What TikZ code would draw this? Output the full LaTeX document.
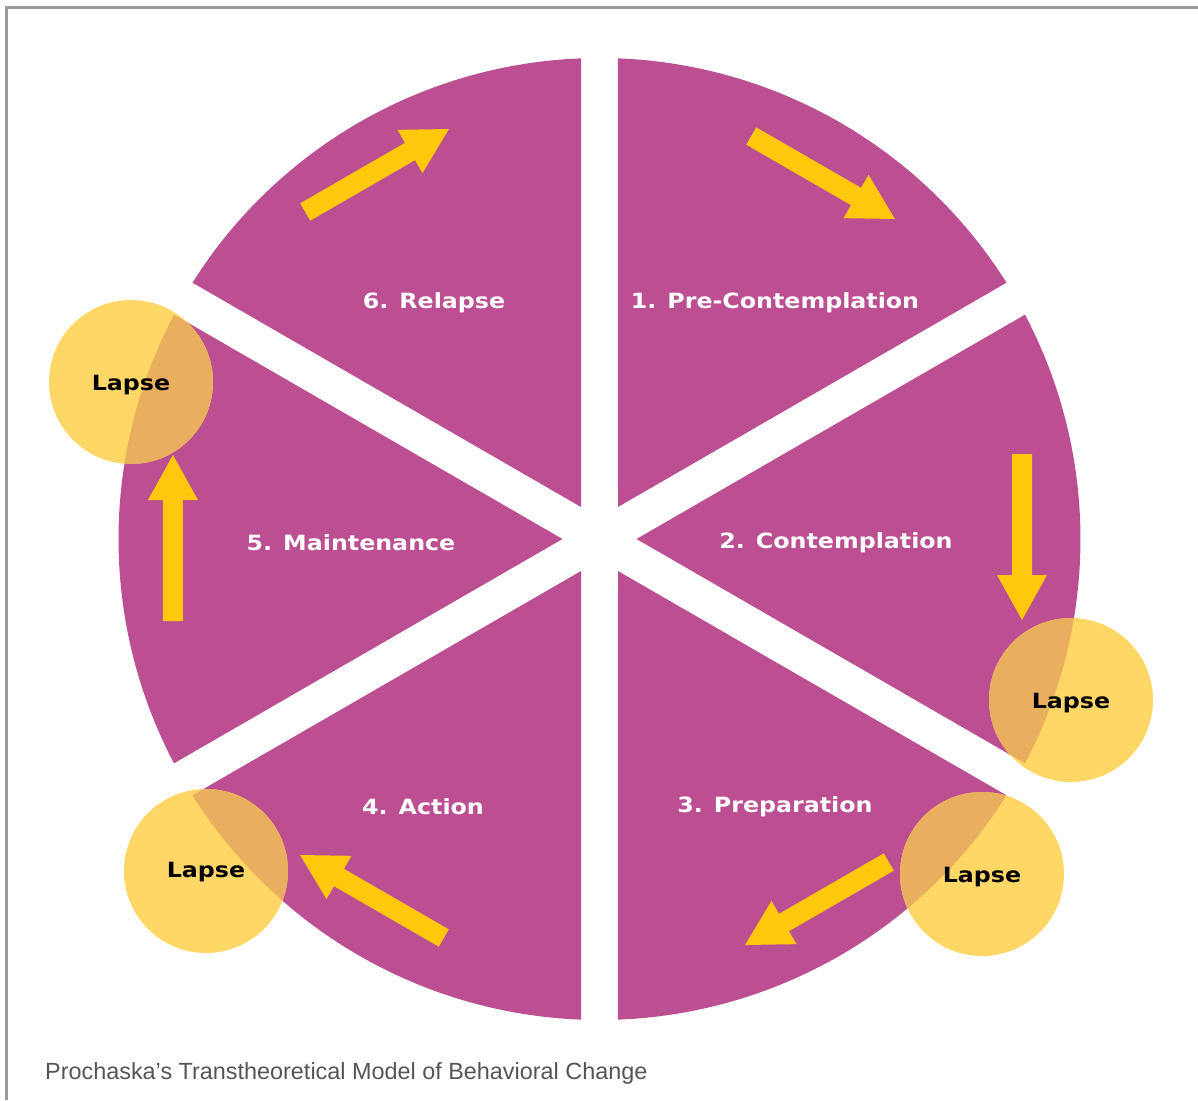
\documentclass[tikz,border=0pt]{standalone}
\usepackage{fontspec}
\setmainfont{DejaVu Sans}
\newfontfamily\capfont{Liberation Sans}
\newfontfamily\stagefont[FakeStretch=1.13]{DejaVu Sans}
\definecolor{stagepink}{HTML}{BC4F92}
\definecolor{arrowyellow}{HTML}{FFC80A}
\definecolor{lapseyellow}{HTML}{FFD766}
\definecolor{lapseorange}{HTML}{E9AF5F}
\definecolor{framegray}{HTML}{9A9A9A}
\definecolor{capgray}{HTML}{555555}

\begin{document}
\begin{tikzpicture}[x=1pt,y=1pt]
    \tikzstyle{every node}+=[inner sep=0pt]
    \tikzstyle{stage}=[text=white, font=\stagefont\bfseries\fontsize{21}{25}\selectfont]
    \tikzstyle{lapse}=[circle, minimum size=164pt, fill=lapseyellow]
    \tikzstyle{lapsetext}=[text=black, font=\stagefont\bfseries\fontsize{21}{25}\selectfont]
    \useasboundingbox (-599.5,-561) rectangle (598.5,539);
    \draw [framegray, line width=3pt] (-593,-561) -- (-593,531.5) -- (598.5,531.5);
    % the six slices
    \fill [stagepink] (60:37) -- (32.2:481) arc [start angle=32.2, end angle=87.8, radius=481] -- cycle;
    \fill [stagepink] (120:37) -- (92.2:481) arc [start angle=92.2, end angle=147.8, radius=481] -- cycle;
    \fill [stagepink] (180:37) -- (152.2:481) arc [start angle=152.2, end angle=207.8, radius=481] -- cycle;
    \fill [stagepink] (240:37) -- (212.2:481) arc [start angle=212.2, end angle=267.8, radius=481] -- cycle;
    \fill [stagepink] (300:37) -- (272.2:481) arc [start angle=272.2, end angle=327.8, radius=481] -- cycle;
    \fill [stagepink] (0:37) -- (-27.8:481) arc [start angle=-27.8, end angle=27.8, radius=481] -- cycle;
    \draw (175.5,236) node [stage] (stage1) {1. Pre-Contemplation};
    \draw (236.5,-4) node [stage] (stage2) {2. Contemplation};
    \draw (175.5,-268) node [stage] (stage3) {3. Preparation};
    \draw (-176.5,-268) node [stage] (stage4) {4. Action};
    \draw (-248.5,-4) node [stage] (stage5) {5. Maintenance};
    \draw (-165.5,236) node [stage] (stage6) {6. Relapse};
    % arrows round the circle
    \fill [arrowyellow, shift={(223.6,361.5)}, rotate=-30] (-83,-10) -- (38,-10) -- (38,-25) -- (83,0) -- (38,25) -- (38,10) -- (-83,10) -- cycle;
    \fill [arrowyellow, shift={(422.5,2)}, rotate=-90] (-83,-10) -- (38,-10) -- (38,-25) -- (83,0) -- (38,25) -- (38,10) -- (-83,10) -- cycle;
    \fill [arrowyellow, shift={(217.4,-364.5)}, rotate=210] (-83,-10) -- (38,-10) -- (38,-25) -- (83,0) -- (38,25) -- (38,10) -- (-83,10) -- cycle;
    \fill [arrowyellow, shift={(-227.6,-357.5)}, rotate=150] (-83,-10) -- (38,-10) -- (38,-25) -- (83,0) -- (38,25) -- (38,10) -- (-83,10) -- cycle;
    \fill [arrowyellow, shift={(-426.5,1)}, rotate=90] (-83,-10) -- (38,-10) -- (38,-25) -- (83,0) -- (38,25) -- (38,10) -- (-83,10) -- cycle;
    \fill [arrowyellow, shift={(-222.4,368.5)}, rotate=30] (-83,-10) -- (38,-10) -- (38,-25) -- (83,0) -- (38,25) -- (38,10) -- (-83,10) -- cycle;
    % lapse circles
    \node [lapse] (lapse5) at (-468.5,157) {};
    \begin{scope}
        \clip (lapse5.center) circle (82);
        \fill [lapseorange] (180:37) -- (152.2:481) arc [start angle=152.2, end angle=207.8, radius=481] -- cycle;
    \end{scope}
    \node [lapsetext] (lapse5text) at ([yshift=-3]lapse5.center) {Lapse};
    \node [lapse] (lapse2) at (471.5,-161) {};
    \begin{scope}
        \clip (lapse2.center) circle (82);
        \fill [lapseorange] (0:37) -- (-27.8:481) arc [start angle=-27.8, end angle=27.8, radius=481] -- cycle;
    \end{scope}
    \node [lapsetext] (lapse2text) at ([yshift=-3]lapse2.center) {Lapse};
    \node [lapse] (lapse3) at (382.5,-335) {};
    \begin{scope}
        \clip (lapse3.center) circle (82);
        \fill [lapseorange] (300:37) -- (272.2:481) arc [start angle=272.2, end angle=327.8, radius=481] -- cycle;
    \end{scope}
    \node [lapsetext] (lapse3text) at ([yshift=-3]lapse3.center) {Lapse};
    \node [lapse] (lapse4) at (-393.5,-332) {};
    \begin{scope}
        \clip (lapse4.center) circle (82);
        \fill [lapseorange] (240:37) -- (212.2:481) arc [start angle=212.2, end angle=267.8, radius=481] -- cycle;
    \end{scope}
    \node [lapsetext] (lapse4text) at ([yshift=-1]lapse4.center) {Lapse};
    \node [anchor=base west, text=capgray, font=\capfont\fontsize{23.4}{27}\selectfont] (caption) at (-554.5,-540) {Prochaska’s Transtheoretical Model of Behavioral Change};
\end{tikzpicture}
\end{document}
